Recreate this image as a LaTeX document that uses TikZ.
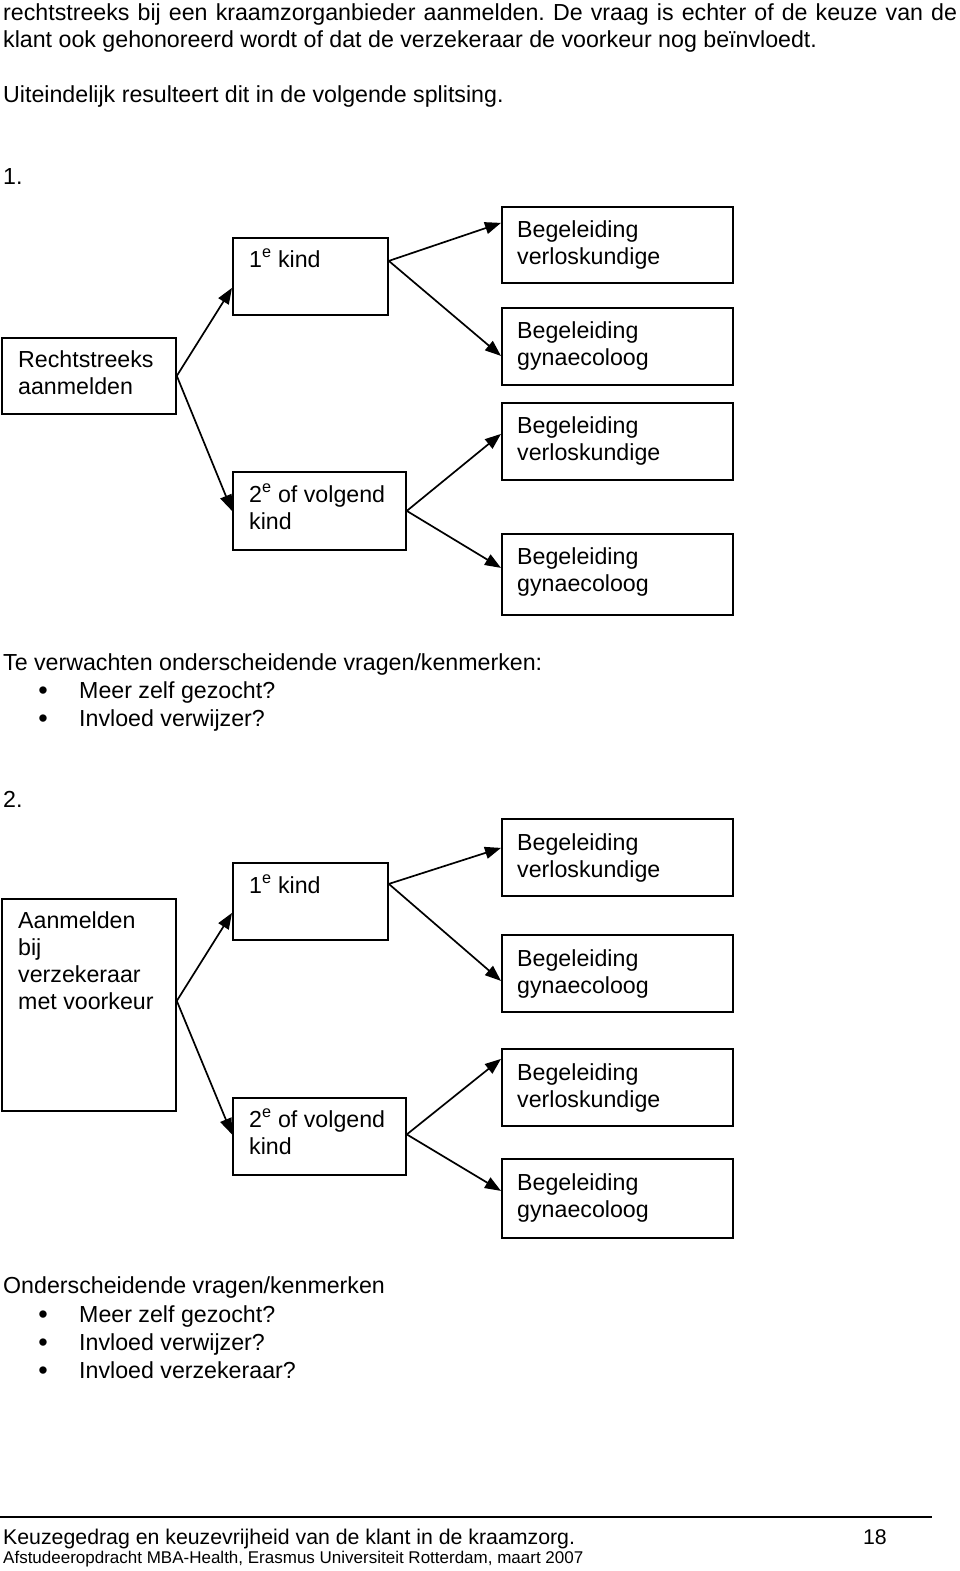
\documentclass[tikz,border=0pt]{standalone}
\usepackage{fontspec}
\setmainfont{Liberation Sans}
\usetikzlibrary{arrows.meta}
\frenchspacing
\newcommand\bodyfont{\fontsize{23.2}{27}\selectfont}
\newcommand\stk[1]{\vtop{\baselineskip=27pt\lineskiplimit=-20pt\halign{##\hfil\cr#1\crcr}}}
\begin{document}
\begin{tikzpicture}[x=1pt,y=-1pt,
 box/.style={draw, line width=1.8pt, inner sep=0pt, anchor=north west},
 txt/.style={font=\bodyfont, inner sep=0pt, anchor=base west},
 bul/.style={font=\fontsize{27}{27}\selectfont, inner sep=0pt, anchor=base},
 arr/.style={line width=1.7pt, -{Triangle[length=16pt,width=12pt]}},
]
\useasboundingbox[fill=white] (0,0) rectangle (960,1571);

% running text
\node[txt] (p1) at (3,21) {\makebox[954pt][s]{rechtstreeks bij een kraamzorganbieder aanmelden. De vraag is echter of de keuze van de}};
\node[txt] (p2) at (3,48) {klant ook gehonoreerd wordt of dat de verzekeraar de voorkeur nog beïnvloedt.};
\node[txt] (p3) at (3,102) {Uiteindelijk resulteert dit in de volgende splitsing.};
\node[txt] (n1) at (3,184) {1.};

% section 1 boxes
\node[box, minimum width=174pt, minimum height=76pt] (r1) at (1,337) {};
\node[box, minimum width=155pt, minimum height=77pt] (k1) at (232,237) {};
\node[box, minimum width=173pt, minimum height=78pt] (v1) at (232,471) {};
\node[box, minimum width=231pt, minimum height=76pt] (b1) at (501,206) {};
\node[box, minimum width=231pt, minimum height=77pt] (b2) at (501,307) {};
\node[box, minimum width=231pt, minimum height=77pt] (b3) at (501,402) {};
\node[box, minimum width=231pt, minimum height=81pt] (b4) at (501,533) {};

\node[txt] (r1t) at ([xshift=17pt,yshift=-30pt]r1.north west) {\stk{Rechtstreeks\cr aanmelden}};
\node[txt] (k1t) at ([xshift=17pt,yshift=-30pt]k1.north west) {1\textsuperscript{e} kind};
\node[txt] (v1t) at ([xshift=17pt,yshift=-31pt]v1.north west) {\stk{2\textsuperscript{e} of volgend\cr kind}};
\node[txt] (b1t) at ([xshift=16pt,yshift=-31pt]b1.north west) {\stk{Begeleiding\cr verloskundige}};
\node[txt] (b2t) at ([xshift=16pt,yshift=-31pt]b2.north west) {\stk{Begeleiding\cr gynaecoloog}};
\node[txt] (b3t) at ([xshift=16pt,yshift=-31pt]b3.north west) {\stk{Begeleiding\cr verloskundige}};
\node[txt] (b4t) at ([xshift=16pt,yshift=-31pt]b4.north west) {\stk{Begeleiding\cr gynaecoloog}};

\draw[arr] (r1.east) -- ([yshift=-11.5pt]k1.west);
\draw[arr] (r1.east) -- (v1.west);
\draw[arr] ([yshift=15.5pt]k1.east) -- ([yshift=22pt]b1.west);
\draw[arr] ([yshift=15.5pt]k1.east) -- ([yshift=-9.5pt]b2.west);
\draw[arr] (v1.east) -- ([yshift=7.5pt]b3.west);
\draw[arr] (v1.east) -- ([yshift=6.5pt]b4.west);

% list 1
\node[txt] (h1) at (3,670) {Te verwachten onderscheidende vragen/kenmerken:};
\node[bul] (d11) at (43,699) {•};
\node[txt] (i11) at (79,698) {Meer zelf gezocht?};
\node[bul] (d12) at (43,727) {•};
\node[txt] (i12) at (79,726) {Invloed verwijzer?};

\node[txt] (n2) at (3,807) {2.};

% section 2 boxes
\node[box, minimum width=174pt, minimum height=212pt] (r2) at (1,898) {};
\node[box, minimum width=155pt, minimum height=77pt] (k2) at (232,862) {};
\node[box, minimum width=173pt, minimum height=77pt] (v2) at (232,1097) {};
\node[box, minimum width=231pt, minimum height=77pt] (b5) at (501,818) {};
\node[box, minimum width=231pt, minimum height=77pt] (b6) at (501,934) {};
\node[box, minimum width=231pt, minimum height=77pt] (b7) at (501,1048) {};
\node[box, minimum width=231pt, minimum height=79pt] (b8) at (501,1158) {};

\node[txt] (r2t) at ([xshift=17pt,yshift=-30pt]r2.north west) {\stk{Aanmelden\cr bij\cr verzekeraar\cr met voorkeur}};
\node[txt] (k2t) at ([xshift=17pt,yshift=-31pt]k2.north west) {1\textsuperscript{e} kind};
\node[txt] (v2t) at ([xshift=17pt,yshift=-30pt]v2.north west) {\stk{2\textsuperscript{e} of volgend\cr kind}};
\node[txt] (b5t) at ([xshift=16pt,yshift=-32pt]b5.north west) {\stk{Begeleiding\cr verloskundige}};
\node[txt] (b6t) at ([xshift=16pt,yshift=-32pt]b6.north west) {\stk{Begeleiding\cr gynaecoloog}};
\node[txt] (b7t) at ([xshift=16pt,yshift=-32pt]b7.north west) {\stk{Begeleiding\cr verloskundige}};
\node[txt] (b8t) at ([xshift=16pt,yshift=-32pt]b8.north west) {\stk{Begeleiding\cr gynaecoloog}};

\draw[arr] ([yshift=4pt]r2.east) -- ([yshift=-11.5pt]k2.west);
\draw[arr] ([yshift=4pt]r2.east) -- ([yshift=2pt]v2.west);
\draw[arr] ([yshift=17.5pt]k2.east) -- ([yshift=9.5pt]b5.west);
\draw[arr] ([yshift=17.5pt]k2.east) -- ([yshift=-7.5pt]b6.west);
\draw[arr] ([yshift=2pt]v2.east) -- ([yshift=28.5pt]b7.west);
\draw[arr] ([yshift=2pt]v2.east) -- ([yshift=7.5pt]b8.west);

% list 2
\node[txt] (h2) at (3,1293) {Onderscheidende vragen/kenmerken};
\node[bul] (d21) at (43,1323) {•};
\node[txt] (i21) at (79,1322) {Meer zelf gezocht?};
\node[bul] (d22) at (43,1351) {•};
\node[txt] (i22) at (79,1350) {Invloed verwijzer?};
\node[bul] (d23) at (43,1379) {•};
\node[txt] (i23) at (79,1378) {Invloed verzekeraar?};

% footer
\coordinate (fl) at (0,1517);
\coordinate (fr) at (932,1517);
\draw[line width=2.5pt] (fl) -- (fr);
\node[txt, font=\fontsize{21.3}{24}\selectfont] (f1) at (3,1544) {Keuzegedrag en keuzevrijheid van de klant in de kraamzorg.};
\node[txt, anchor=base east, font=\fontsize{21.3}{24}\selectfont] (pg) at (887,1544) {18};
\node[txt, font=\fontsize{17}{20}\selectfont] (f2) at (3,1563) {Afstudeeropdracht MBA-Health, Erasmus Universiteit Rotterdam, maart 2007};
\end{tikzpicture}
\end{document}
